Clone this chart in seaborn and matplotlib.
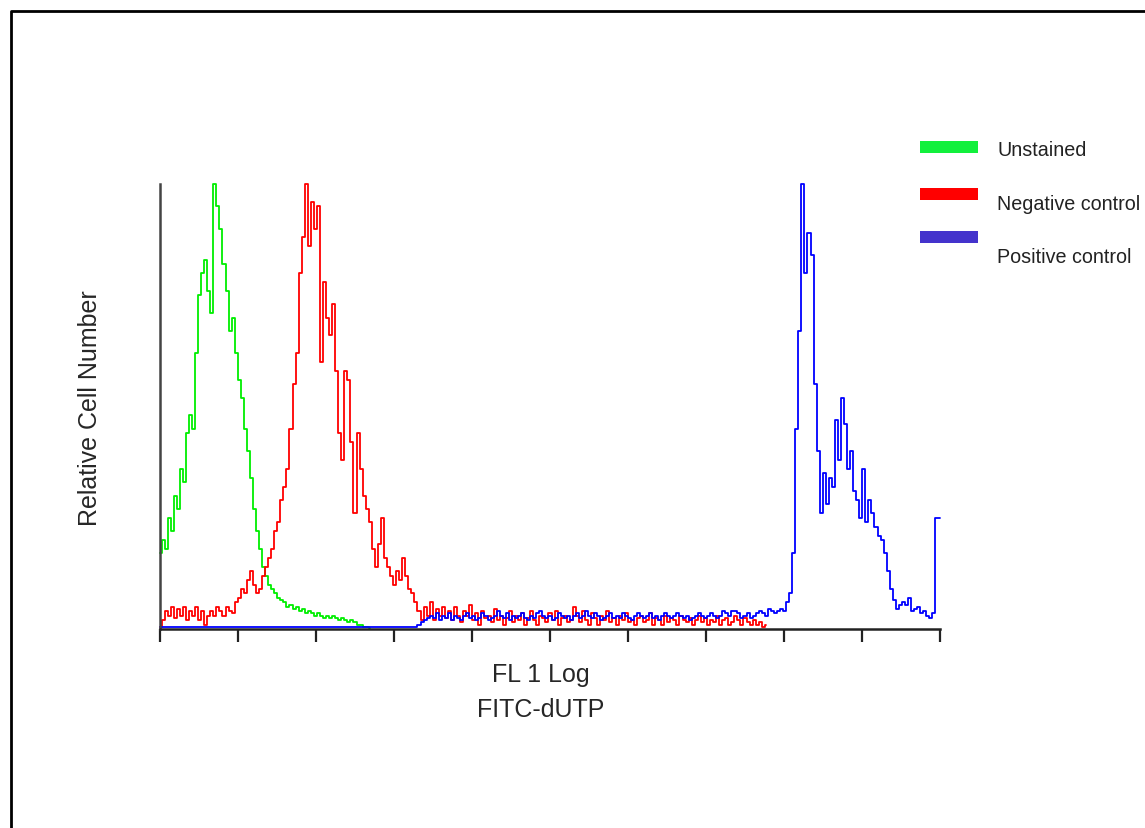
import numpy as np
import pandas as pd
import matplotlib
matplotlib.use('Agg')
import matplotlib.pyplot as plt
import seaborn as sns
from matplotlib.patches import Rectangle
from matplotlib.lines import Line2D

# Histogram counts per channel (relative, peak = 100)
unstained = [
    17, 20, 18, 25, 22, 30, 27, 36, 33, 44,
    48, 45, 62, 75, 80, 83, 76, 71, 100, 95,
    90, 82, 76, 67, 70, 62, 56, 52, 45, 40,
    34, 27, 22, 18, 14, 12, 10, 9, 8, 7,
    6.5, 6, 5, 5.5, 4.5, 5, 4, 4.5, 3.5, 4,
    3.5, 3, 3.5, 3, 2.5, 3, 2.5, 3, 2.5, 2,
    2.5, 2, 1.5, 2, 1.5, 1, 1, 0.5, 0.5, 0.3,
]

negative = [
    0.5, 2, 4, 3, 5, 2.5, 4.5, 3, 5, 2,
    4, 3, 5, 2, 4, 1, 3, 4, 3, 5,
    4, 3, 5, 4, 3.5, 6, 7, 9, 8, 11,
    13, 10, 8, 9, 12, 14, 16, 18, 22, 24,
    29, 32, 36, 45, 55, 62, 80, 88, 100, 86,
    96, 90, 95, 60, 78, 70, 66, 73, 58, 44,
    38, 58, 56, 42, 26, 44, 36, 30, 27, 24,
    18, 14, 19, 25, 16, 14, 12, 10, 13, 11,
    16, 12, 9, 8, 6, 4, 2, 5, 3, 6,
    2, 4.5, 3, 5, 2.5,
    4, 2, 5, 3, 1.5, 4, 3, 5.5, 2, 3.5,
    1, 4, 2.5, 3, 1.5, 4.5, 2, 3, 1, 2.5,
    4, 1.5, 3, 2, 3.5, 1, 2.5, 4, 2, 1,
    3, 2.5, 1.5, 3.5, 2, 4, 1, 2.5, 3, 1.5,
    2, 5, 3, 1.5, 4, 2, 1, 3.5, 2.5, 1,
    3, 2, 4, 1.5, 2.5, 1, 3, 2, 3.5, 1.5,
    2, 1, 2.5, 3, 1.5, 2, 3.5, 1, 2.5, 2,
    1, 3, 1.5, 2.5, 2, 1, 3, 2, 1.5, 2.5,
    1, 2, 3, 1.5, 2.5, 1, 2, 1.5, 3, 1,
    2, 2.5, 1, 1.5, 3, 2, 1, 2.5, 1.5, 1,
    2, 1, 1.5, 0.5, 1,
]

# positive control: flat start (channels 0-84), then per-channel counts from 85
positive_start_ch = [0, 84]
positive_start = [0.4, 0.4]
positive = [
    1, 1.5, 2, 2.5, 3, 2.5, 3.5, 2, 3, 2.5,
    3.5, 2, 3, 2.5, 2, 3, 3.5, 2.5, 3, 2,
    2.5, 3.5, 3, 2, 2.5, 3, 4, 3, 2.5, 3.5,
    2, 3, 2.5, 3, 3.5, 2.5, 2, 3, 2.5, 3.5,
    4, 3, 2.5, 3, 2, 2.5, 3.5, 3, 2.5, 3,
    2, 3, 3.5, 2.5, 3, 4, 3, 2.5, 3.5, 3,
    2, 2.5, 3, 3.5, 2.5, 3, 2.5, 3.5, 3, 2.5,
    2, 3, 3.5, 3, 2.5, 3, 3.5, 2.5, 3, 2,
    3, 3.5, 3, 2.5, 3, 3.5, 3, 2.5, 3, 2,
    2.5, 3, 3.5, 3, 2.5, 3, 3.5, 3, 2.5, 3,
    4, 3.5, 3, 4, 4, 3.5, 2.5, 3, 3.5, 2.5,
    3, 3.5, 4, 3.5, 3, 4.5, 4, 3.5, 4, 4.5,
    4, 6, 8, 17, 45, 67, 100, 80, 89, 84,
    55, 40, 26, 35, 28, 34, 32, 47, 38, 52,
    46, 36, 40, 31, 29, 25, 36, 24, 29, 26,
    23, 21, 20, 17, 13, 9, 6.5, 4.5, 5.5, 6,
    5.5, 7, 4, 4.5, 5, 3.5, 4, 3, 2.5, 3.5,
    25, 25,
]

labels = ['Unstained', 'Negative control', 'Positive control']
line_colors = ['#00ee00', '#ff0000', '#0000ff']
patch_colors = ['#12f03c', '#ff0000', '#4433cc']

sns.set_style('white')
plt.rcParams['font.family'] = ['Liberation Sans', 'DejaVu Sans']

fig = plt.figure(figsize=(11.45, 8.29), dpi=100)
ax = fig.add_axes([160 / 1145, 1 - 630 / 829, 780 / 1145, 445 / 829])

pos_x = positive_start_ch + list(range(85, 85 + len(positive)))
series = [
    (np.arange(len(unstained)), unstained),
    (np.arange(len(negative)), negative),
    (np.array(pos_x), positive_start + positive),
]
for (x, y), c in zip(series, line_colors):
    sns.lineplot(x=x, y=y, ax=ax, color=c, lw=1.3, drawstyle='steps-mid',
                 estimator=None, clip_on=False)

ax.set_xlim(0, 256)
ax.set_ylim(0, 100)
ax.set_xticks(np.linspace(0, 256, 11))
ax.set_xticklabels([])
ax.set_yticks([])
ax.set_xlabel('')
ax.set_ylabel('')
ax.tick_params(axis='x', direction='out', length=9, width=1.6, color='#222222', bottom=True)
for s in ['top', 'right']:
    ax.spines[s].set_visible(False)
ax.spines['left'].set_color('#444444')
ax.spines['bottom'].set_color('#222222')
ax.spines['left'].set_linewidth(1.8)
ax.spines['bottom'].set_linewidth(1.8)

# axis titles
fig.text(541 / 1145, 1 - 675 / 829, 'FL 1 Log', ha='center', va='center', fontsize=18)
fig.text(541 / 1145, 1 - 710 / 829, 'FITC-dUTP', ha='center', va='center', fontsize=18)
fig.text(90 / 1145, 1 - 408 / 829, 'Relative Cell Number', ha='center', va='center',
         rotation=90, fontsize=18)

# legend drawn as colour bars with labels
bar_y = [148, 195, 237.5]
text_y = [151, 205, 258]
for lab, pc, by, ty in zip(labels, patch_colors, bar_y, text_y):
    fig.add_artist(Rectangle((920 / 1145, 1 - (by + 6) / 829), 58 / 1145, 12 / 829,
                             transform=fig.transFigure, color=pc, lw=0))
    fig.text(997 / 1145, 1 - ty / 829, lab, ha='left', va='center', fontsize=14.2,
             color='#222222')

# outer frame (left and top edges)
fig.add_artist(Line2D([11 / 1145, 11 / 1145, 1.0], [0.0, 1 - 12 / 829, 1 - 12 / 829],
                      transform=fig.transFigure, color='black', lw=2))

fig.savefig('out.png', dpi=100)
